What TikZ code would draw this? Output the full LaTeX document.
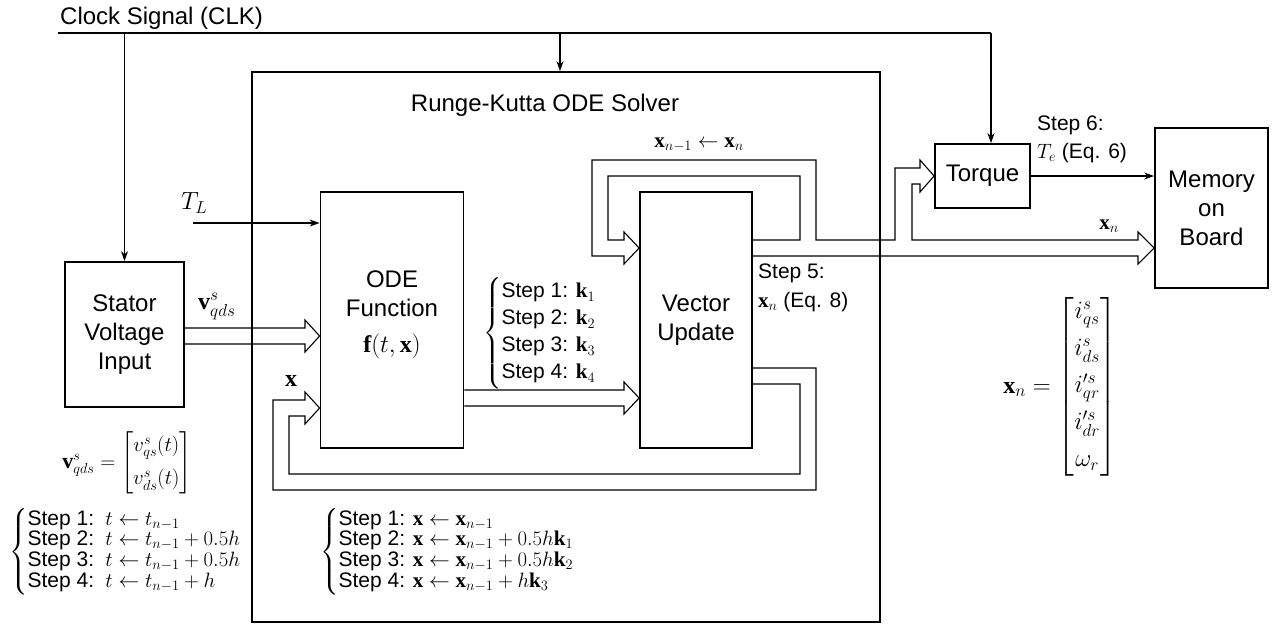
\documentclass[tikz,border=0pt]{standalone}
\usepackage{amsmath}
\usepackage{fontspec}
\setmainfont{Liberation Sans}
\setmathrm{Liberation Serif}
\usetikzlibrary{arrows.meta}
\begin{document}
\begin{tikzpicture}[x=1pt,y=-1pt,
  blk/.style={draw, line width=1.8pt, inner sep=0pt, align=center, font=\fontsize{24}{29}\selectfont},
  pipe/.style={line width=1.1pt, line join=miter},
  thinarrow/.style={line width=1.1pt, -{Stealth[length=10pt,width=7pt]}},
  big/.style={font=\fontsize{24}{29}\selectfont, align=center, inner sep=0pt},
  small/.style={font=\fontsize{21}{25}\selectfont, inner sep=0pt}
]
\useasboundingbox (0,0) rectangle (1276,625);

% boxes
\node[blk, minimum width=628pt, minimum height=550pt] (rk) at (566,347) {};
\node[blk, minimum width=119pt, minimum height=145pt] (stator) at (124.5,334.5) {Stator\\Voltage\\Input};
\node[blk, minimum width=143pt, minimum height=256pt] (ode) at (392,320) {};
\node[blk, minimum width=112pt, minimum height=256pt] (vu) at (696,320) {Vector\\Update};
\node[blk, minimum width=95pt, minimum height=64pt] (torque) at (982.5,176) {Torque};
\node[blk, minimum width=113pt, minimum height=160pt] (mem) at (1211.5,208) {Memory\\on\\Board};

% texts
\node[big, anchor=west] (clktxt) at (60,18) {Clock Signal (CLK)};
\node[big] (title) at (545,105) {Runge-Kutta ODE Solver};
\node[big] (odetxt) at (392,315) {ODE\\Function\\[7pt]$\mathbf{f}(t,\mathbf{x})$};

% clock signal
\coordinate (c0) at (58,33);
\coordinate (c2) at (560,33);
\coordinate (c3) at (991,33);
\draw[line width=1.1pt] (c0) -- (c3);
\draw[thinarrow] (stator.north |- c0) -- (stator.north);
\draw[thinarrow] (c2) -- (c2 |- rk.north);
\draw[thinarrow] (c3) -- (c3 |- torque.north);

% T_L
\node[big, anchor=west] (tl) at (181,203) {$T_L$};
\coordinate (tls) at (193,223);
\draw[thinarrow] (tls) -- (tls -| ode.west);

% torque -> memory
\draw[thinarrow] (torque.east) -- (torque.east -| mem.west);

% hollow arrows
\draw[pipe] (stator.east |- 0,328) -- (305,328) -- (305,320) -- (ode.west |- 0,336) -- (305,352) -- (305,344) -- (stator.east |- 0,344);
\draw[pipe] (ode.east |- 0,390) -- (624,390) -- (624,382) -- (vu.west |- 0,398) -- (624,414) -- (624,406) -- (ode.east |- 0,406);
\draw[pipe] (vu.east |- 0,368) -- (816,368) -- (816,490) -- (273,490) -- (273,400) -- (305,400) -- (305,392) -- (ode.west |- 0,408) -- (305,424) -- (305,416) -- (289,416) -- (289,474) -- (800,474) -- (800,384) -- (vu.east |- 0,384);
\draw[pipe] (vu.east |- 0,240) -- (800,240) -- (800,176) -- (608,176) -- (608,240) -- (624,240) -- (624,232) -- (vu.west |- 0,248) -- (624,264) -- (624,256) -- (592,256) -- (592,160) -- (816,160) -- (816,240) -- (895,240) -- (895,168) -- (920,168) -- (920,160) -- (torque.west) -- (920,192) -- (920,184) -- (912,184) -- (912,240) -- (1138,240) -- (1138,232) -- (mem.west |- 0,248) -- (1138,264) -- (1138,256) -- (vu.east |- 0,256);

% labels
\node[big, anchor=west] (vlab) at (198,306) {$\mathbf{v}^s_{qds}$};
\node[big] (xlab) at (291,381) {$\mathbf{x}$};
\node[small, anchor=west] (ksteps) at (483,333) {\fontsize{21}{27}\selectfont$\left\{\begin{array}{@{}l@{}}\text{Step 1: }\mathbf{k}_1\\ \text{Step 2: }\mathbf{k}_2\\ \text{Step 3: }\mathbf{k}_3\\ \text{Step 4: }\mathbf{k}_4\end{array}\right.$};
\node[small, anchor=west] (s5a) at (758,273) {Step 5:};
\node[small, anchor=west] (s5b) at (758,302) {$\mathbf{x}_n$ (Eq. 8)};
\node[small] (upd) at (699,145) {$\mathbf{x}_{n-1}\leftarrow\mathbf{x}_n$};
\node[small, anchor=west] (s6a) at (1037,125) {Step 6:};
\node[small, anchor=west] (s6b) at (1037,153) {$T_e$ (Eq. 6)};
\node[small] (xnlab) at (1109,226) {$\mathbf{x}_n$};

\node[big] (xvec) at (1060,387) {$\mathbf{x}_n=\begin{bmatrix} i^s_{qs}\\[8pt] i^s_{ds}\\[8pt] i'^s_{qr}\\[8pt] i'^s_{dr}\\[8pt] \omega_r\end{bmatrix}$};
\node[inner sep=0pt, font=\fontsize{22}{26}\selectfont] (vvec) at (127,463) {$\mathbf{v}^s_{qds}=\begin{bmatrix} v^s_{qs}(t)\\[7pt] v^s_{ds}(t)\end{bmatrix}$};

\node[small, anchor=west] (tsteps) at (9,552) {\fontsize{21}{20.5}\selectfont$\left\{\begin{array}{@{}l@{}}\text{Step 1:\, }t\leftarrow t_{n-1}\\ \text{Step 2:\, }t\leftarrow t_{n-1}+0.5h\\ \text{Step 3:\, }t\leftarrow t_{n-1}+0.5h\\ \text{Step 4:\, }t\leftarrow t_{n-1}+h\end{array}\right.$};
\node[small, anchor=west] (xsteps) at (320,552) {\fontsize{21}{20.5}\selectfont$\left\{\begin{array}{@{}l@{}}\text{Step 1: }\mathbf{x}\leftarrow\mathbf{x}_{n-1}\\ \text{Step 2: }\mathbf{x}\leftarrow\mathbf{x}_{n-1}+0.5h\mathbf{k}_1\\ \text{Step 3: }\mathbf{x}\leftarrow\mathbf{x}_{n-1}+0.5h\mathbf{k}_2\\ \text{Step 4: }\mathbf{x}\leftarrow\mathbf{x}_{n-1}+h\mathbf{k}_3\end{array}\right.$};
\end{tikzpicture}
\end{document}
